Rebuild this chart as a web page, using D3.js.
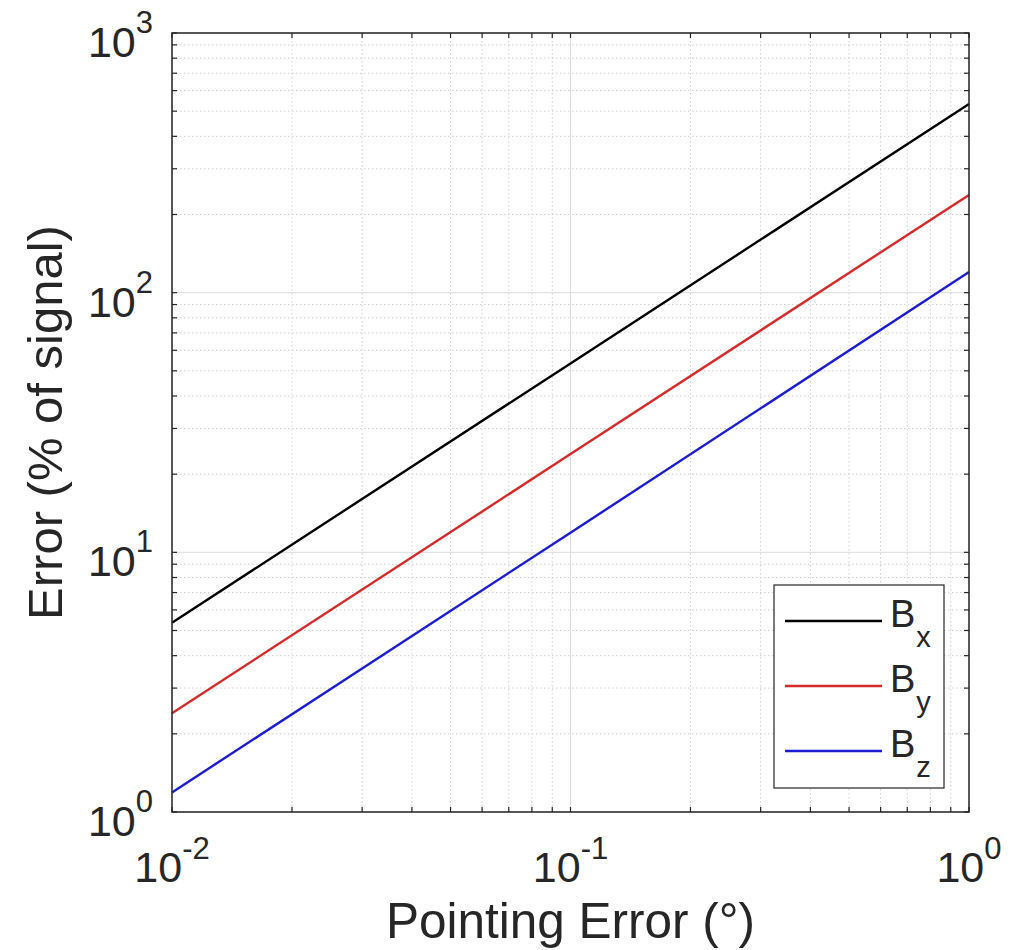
<!DOCTYPE html>
<html>
<head>
<meta charset="utf-8">
<script src="https://cdn.jsdelivr.net/npm/d3@7"></script>
<style>
  body { margin: 0; background: #fff; }
  text { font-family: "Liberation Sans", Arial, Helvetica, sans-serif; fill: #262626; }
</style>
</head>
<body>
<div id="chart"></div>
<script>
// data
var pointingError = [0.01, 0.1, 1];
var seriesNames = ["x", "y", "z"];
var bx = [5.36, 53.4, 533];
var by = [2.40, 23.9, 238];
var bz = [1.19, 11.9, 120];
var seriesColors = ["#000000", "#d42a2a", "#1c1cd0"];
var xTicks = [0.01, 0.1, 1];
var xTickExp = ["-2", "-1", "0"];
var yTicks = [1, 10, 100, 1000];
var yTickExp = ["0", "1", "2", "3"];

// chart layout
var W = 1025, H = 950;
var margin = {top: 33, right: 56, bottom: 138, left: 172};
var width = W - margin.left - margin.right;
var height = H - margin.top - margin.bottom;
var axisColor = "#262626";

var svg = d3.select("#chart").append("svg")
  .attr("width", W)
  .attr("height", H);

var g = svg.append("g")
  .attr("transform", "translate(" + margin.left + "," + margin.top + ")");

var x = d3.scaleLog().domain([0.01, 1]).range([0, width]);
var y = d3.scaleLog().domain([1, 1000]).range([height, 0]);

// minor / major positions on log axes
function minors(lo, hi){
  var out = [];
  for (var e = lo; e < hi; e++){
    for (var k = 2; k <= 9; k++) out.push(k * Math.pow(10, e));
  }
  return out;
}
var xMinor = minors(-2, 0);
var yMinor = minors(0, 3);

// grid: minor dotted, major solid
g.append("g").selectAll("line").data(xMinor).join("line")
  .attr("x1", d => x(d)).attr("x2", d => x(d))
  .attr("y1", 0).attr("y2", height)
  .attr("stroke", "#cfcfcf").attr("stroke-width", 1)
  .attr("stroke-dasharray", "1.5,2.5");
g.append("g").selectAll("line").data(yMinor).join("line")
  .attr("y1", d => y(d)).attr("y2", d => y(d))
  .attr("x1", 0).attr("x2", width)
  .attr("stroke", "#cfcfcf").attr("stroke-width", 1)
  .attr("stroke-dasharray", "1.5,2.5");
g.append("g").selectAll("line").data(xTicks).join("line")
  .attr("x1", d => x(d)).attr("x2", d => x(d))
  .attr("y1", 0).attr("y2", height)
  .attr("stroke", "#dcdcdc").attr("stroke-width", 1);
g.append("g").selectAll("line").data(yTicks).join("line")
  .attr("y1", d => y(d)).attr("y2", d => y(d))
  .attr("x1", 0).attr("x2", width)
  .attr("stroke", "#dcdcdc").attr("stroke-width", 1);

// series lines
var series = [bx, by, bz];
var line = d3.line()
  .x((d, i) => x(pointingError[i]))
  .y(d => y(d));

g.append("g").selectAll("path").data(series).join("path")
  .attr("d", d => line(d))
  .attr("fill", "none")
  .attr("stroke", (d, i) => seriesColors[i])
  .attr("stroke-width", 2.4);

// ticks inward on all sides (box on)
var tickLen = 5;
var xAll = xTicks.concat(xMinor), yAll = yTicks.concat(yMinor);
var ticks = g.append("g").attr("stroke", axisColor).attr("stroke-width", 1.2);
ticks.selectAll(".xb").data(xAll).join("line").attr("class", "xb")
  .attr("x1", d => x(d)).attr("x2", d => x(d)).attr("y1", height).attr("y2", height - tickLen);
ticks.selectAll(".xt").data(xAll).join("line").attr("class", "xt")
  .attr("x1", d => x(d)).attr("x2", d => x(d)).attr("y1", 0).attr("y2", tickLen);
ticks.selectAll(".yl").data(yAll).join("line").attr("class", "yl")
  .attr("y1", d => y(d)).attr("y2", d => y(d)).attr("x1", 0).attr("x2", tickLen);
ticks.selectAll(".yr").data(yAll).join("line").attr("class", "yr")
  .attr("y1", d => y(d)).attr("y2", d => y(d)).attr("x1", width).attr("x2", width - tickLen);

// box
g.append("rect")
  .attr("width", width).attr("height", height)
  .attr("fill", "none").attr("stroke", axisColor).attr("stroke-width", 1.5);

// tick labels 10^n
var xl = g.append("g").selectAll("text").data(xTicks).join("text")
  .attr("x", d => x(d)).attr("y", height + 70)
  .attr("text-anchor", "middle");
xl.append("tspan").attr("font-size", 43).text("10");
xl.append("tspan").attr("font-size", 31).attr("dy", -23).text((d, i) => xTickExp[i]);

var yl = g.append("g").selectAll("text").data(yTicks).join("text")
  .attr("x", -19).attr("y", d => y(d) + 24)
  .attr("text-anchor", "end");
yl.append("tspan").attr("font-size", 43).text("10");
yl.append("tspan").attr("font-size", 31).attr("dy", -24).text((d, i) => yTickExp[i]);

// axis labels
svg.append("text")
  .attr("x", margin.left + width / 2).attr("y", 938)
  .attr("text-anchor", "middle").attr("font-size", 49.5)
  .text("Pointing Error (°)");
svg.append("text")
  .attr("transform", "translate(62," + (margin.top + height / 2) + ") rotate(-90)")
  .attr("text-anchor", "middle").attr("font-size", 49)
  .text("Error (% of signal)");

// legend
var legend = svg.append("g");
legend.append("rect")
  .attr("x", 774).attr("y", 585).attr("width", 170).attr("height", 203)
  .attr("fill", "#fff").attr("stroke", axisColor).attr("stroke-width", 1.2);
var ly = d3.scalePoint().domain(seriesNames).range([621, 751]);
var items = legend.selectAll(".item").data(seriesNames).join("g").attr("class", "item");
items.append("line")
  .attr("x1", 785).attr("x2", 882)
  .attr("y1", d => ly(d)).attr("y2", d => ly(d))
  .attr("stroke", (d, i) => seriesColors[i]).attr("stroke-width", 2.4);
var lt = items.append("text").attr("x", 890).attr("y", d => ly(d) + 6);
lt.append("tspan").attr("font-size", 38).text("B");
lt.append("tspan").attr("font-size", 29).attr("dy", 20).attr("dx", 1).text(d => d);
</script>
</body>
</html>
